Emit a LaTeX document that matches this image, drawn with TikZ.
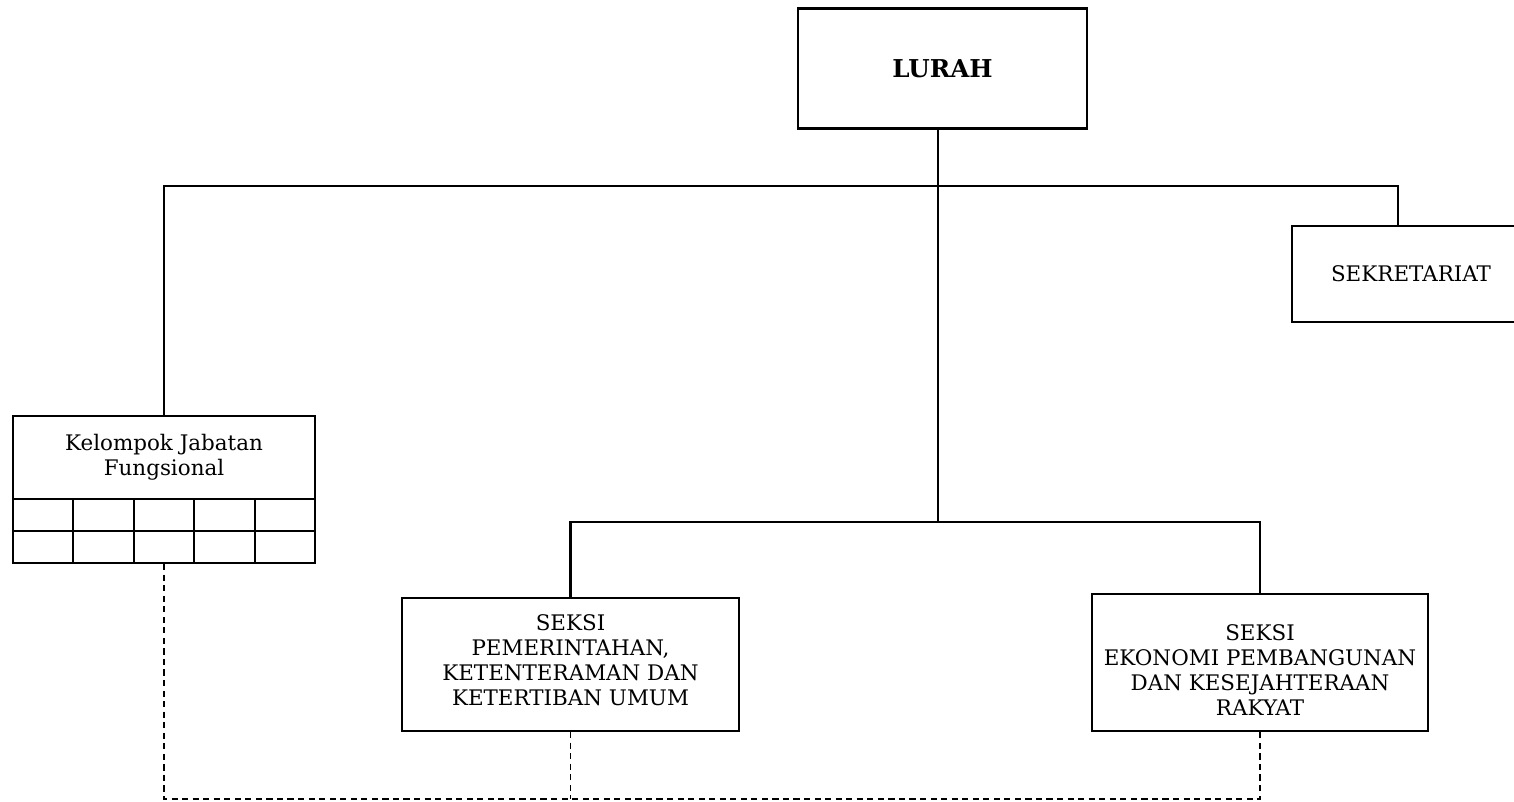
\documentclass[tikz,border=0pt]{standalone}
\usepackage{fontspec}
\setmainfont{DejaVu Serif}
\usetikzlibrary{positioning}

\begin{document}
\begin{tikzpicture}[
    x=0.02cm, y=-0.02cm,
    unitbox/.style={
    rectangle,
    draw=black,
    line width=1.2pt,
    inner sep=0pt,
    align=center,
    font=\fontsize{12.2}{14.2}\selectfont},
    boxtext/.style={
    inner sep=0pt,
    align=center,
    font=\fontsize{12.2}{14.2}\selectfont},
    gridcell/.style={
    rectangle,
    draw=black,
    line width=1.2pt,
    inner sep=0pt,
    minimum width=60.4*0.02cm,
    minimum height=32*0.02cm},
    solidline/.style={line width=1.2pt},
    dashline/.style={line width=1.1pt, dash pattern=on 3.5pt off 2.5pt}
    ]
    \useasboundingbox (0,0) rectangle (1514,801);

    \node[unitbox, minimum width=289*0.02cm, minimum height=120*0.02cm,
          font=\fontsize{14}{16}\selectfont\bfseries] (lurah) at (942.5,68.5) {LURAH};
    \node[unitbox, minimum width=238*0.02cm, minimum height=96*0.02cm] (sekr) at (1411,274) {SEKRETARIAT};
    \node[unitbox, minimum width=302*0.02cm, minimum height=83*0.02cm] (kjf) at (164,457.5) {Kelompok Jabatan\\Fungsional};
    \foreach \r in {1,2}
      \foreach \c in {1,...,5}
        \node[gridcell] (cell\r\c) at ({13+(\c-0.5)*60.4},{499+(\r-0.5)*32}) {};
    \node[unitbox, minimum width=337*0.02cm, minimum height=133*0.02cm] (pem) at (570.5,664.5) {};
    \node[boxtext] (pemtxt) at ([yshift=2.5pt]pem.center)
         {SEKSI\\PEMERINTAHAN,\\KETENTERAMAN DAN\\KETERTIBAN UMUM};
    \node[unitbox, minimum width=336*0.02cm, minimum height=137*0.02cm] (eko) at (1260,662.5) {};
    \node[boxtext] (ekotxt) at ([yshift=-4.5pt]eko.center)
         {SEKSI\\EKONOMI PEMBANGUNAN\\DAN KESEJAHTERAAN\\RAKYAT};

    % solid lines
    \coordinate (hub) at (938,522);
    \coordinate (bar) at (938,186);
    \coordinate (sk) at (1398,226);
    \draw[solidline] (lurah.south -| hub) -- (hub);
    \draw[solidline] (kjf.north) |- (bar) -| (sk);
    \draw[solidline] (pem.north) |- (hub) -| (eko.north);

    % dashed lines
    \coordinate (dl) at (938,799);
    \draw[dashline] (cell23.south) |- (dl) -| (eko.south);
    \draw[dashline] (pem.south) -- (pem.south |- dl);
\end{tikzpicture}
\end{document}
